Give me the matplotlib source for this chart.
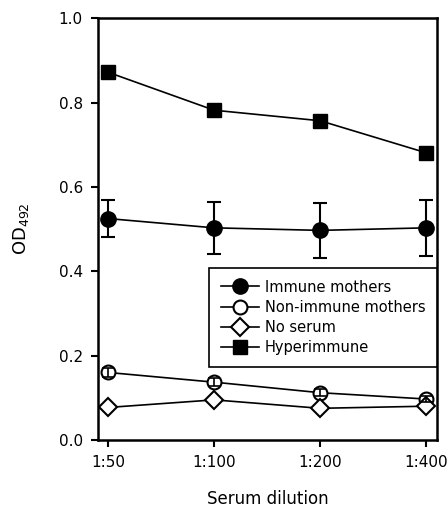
import numpy as np
import matplotlib as mpl
mpl.use('Agg')
import matplotlib.pyplot as plt
from matplotlib.lines import Line2D

mpl.rcParams['font.family'] = ['DejaVu Sans']

dilutions = ['1:50', '1:100', '1:200', '1:400']
immune = [0.525, 0.503, 0.497, 0.503]
immune_err = [0.044, 0.062, 0.066, 0.067]
nonimmune = [0.160, 0.137, 0.112, 0.097]
nonimmune_err = [0.010, 0.009, 0.008, 0.006]
no_serum = [0.077, 0.095, 0.075, 0.080]
hyperimmune = [0.872, 0.782, 0.757, 0.681]

x = np.arange(len(dilutions))

fig = plt.figure(figsize=(4.48, 5.08), dpi=100)
ax = fig.add_axes([0.219, 0.134, 0.756, 0.830])

lw = 1.2
# series with markers
ax.errorbar(x, immune, yerr=immune_err, color='black', marker='o', ms=11,
            mfc='black', mec='black', lw=lw, elinewidth=1.5, capsize=5,
            capthick=1.5, zorder=3)
ax.plot(x, nonimmune, color='black', marker='o', ms=10, mfc='white',
        mec='black', mew=1.5, lw=lw, zorder=3)
# small error bars drawn over the open circles
ax.errorbar(x, nonimmune, yerr=nonimmune_err, fmt='none', ecolor='black',
            elinewidth=1.2, capsize=4, capthick=1.2, zorder=4)
ax.plot(x, no_serum, color='black', marker='D', ms=9, mfc='white',
        mec='black', mew=1.5, lw=lw, zorder=3)
ax.plot(x, hyperimmune, color='black', marker='s', ms=10, mfc='black',
        mec='black', lw=lw, zorder=3)

ax.set_xlim(-0.094, 3.10)
ax.set_ylim(0, 1.0)
ax.set_xticks(x)
ax.set_xticklabels(dilutions)
ax.set_yticks(np.arange(0, 1.01, 0.2))
ax.set_yticklabels(['{:.1f}'.format(v) for v in np.arange(0, 1.01, 0.2)])
ax.tick_params(direction='out', length=5, width=1.5, labelsize=11, pad=6)
for s in ax.spines.values():
    s.set_linewidth(1.8)

ax.set_xlabel('Serum dilution', fontsize=12, labelpad=14)
ax.set_ylabel('OD$_{492}$', fontsize=13, labelpad=20)

handles = [
    Line2D([], [], color='black', lw=lw, marker='o', ms=11, mfc='black'),
    Line2D([], [], color='black', lw=lw, marker='o', ms=10, mfc='white', mew=1.5),
    Line2D([], [], color='black', lw=lw, marker='D', ms=9, mfc='white', mew=1.5),
    Line2D([], [], color='black', lw=lw, marker='s', ms=10, mfc='black'),
]
labels = ['Immune mothers', 'Non-immune mothers', 'No serum', 'Hyperimmune']
leg = ax.legend(handles, labels, loc='upper right', bbox_to_anchor=(1.0, 0.408),
                borderaxespad=0, fancybox=False, edgecolor='black',
                framealpha=1, fontsize=10.5, handlelength=2.6,
                handletextpad=0.4, labelspacing=0.35, borderpad=0.8)
leg.get_frame().set_linewidth(1.2)

fig.savefig('out.png', dpi=100)
